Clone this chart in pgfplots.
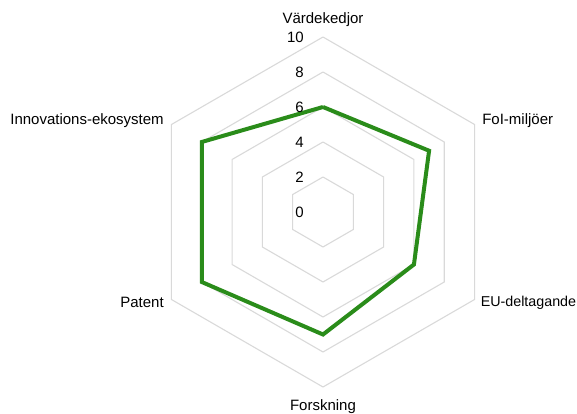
\documentclass[border=0pt]{standalone}
\usepackage{pgfplots}
\pgfplotsset{compat=1.18}
\usepackage{fontspec}
\setmainfont{Liberation Sans}
\definecolor{radargreen}{RGB}{42,140,26}
\definecolor{ringgray}{RGB}{217,217,217}
\begin{document}
\fontsize{15}{18}\selectfont
\begin{tikzpicture}
\begin{axis}[
  hide axis,
  x=17.5pt, y=17.5pt,
  xmin=-10, xmax=10, ymin=-10, ymax=10,
  clip=false,
  /pgf/number format/assume math mode=true,
]
% rings (angle, radius)
\foreach \r in {2,4,6,8,10}{
  \edef\tmp{\noexpand\addplot[data cs=polar, ringgray, line width=1.1pt, line join=miter] coordinates {(90,\r) (30,\r) (-30,\r) (-90,\r) (-150,\r) (150,\r) (90,\r)};}
  \tmp
}
% data
\addplot[data cs=polar, radargreen, line width=4pt, line join=miter] coordinates {
  (90,6) (30,7) (-30,6) (-90,7) (-150,8) (150,8) (90,6)
};
% value labels
\foreach \v in {0,2,4,6,8,10}{
  \edef\tmp{\noexpand\node[anchor=east, inner sep=0pt, xshift=-19pt] at (axis cs:0,\v) {\v};}
  \tmp
}
% category labels
\node[anchor=base, inner sep=0pt, yshift=13pt] at (axis cs:0,10) {Värdekedjor};
\node[anchor=base west, inner sep=0pt, xshift=7.5pt, yshift=-0.5pt] at (axis cs:8.660,5) {FoI-miljöer};
\node[anchor=base west, inner sep=0pt, xshift=6pt, yshift=-7pt] at (axis cs:8.660,-5) {\fontsize{14.3}{17}\selectfont EU-deltagande};
\node[anchor=base, inner sep=0pt, yshift=-23pt] at (axis cs:0,-10) {Forskning};
\node[anchor=base east, inner sep=0pt, xshift=-7.5pt, yshift=-8.5pt] at (axis cs:-8.660,-5) {Patent};
\node[anchor=base east, inner sep=0pt, xshift=-7.5pt, yshift=-0.5pt] at (axis cs:-8.660,5) {Innovations-ekosystem};
\coordinate (C) at (axis cs:0,0);
\end{axis}
\pgfresetboundingbox
\path ([shift={(-323pt,212pt)}]C) rectangle ([shift={(254pt,-202pt)}]C);
\end{tikzpicture}
\end{document}
